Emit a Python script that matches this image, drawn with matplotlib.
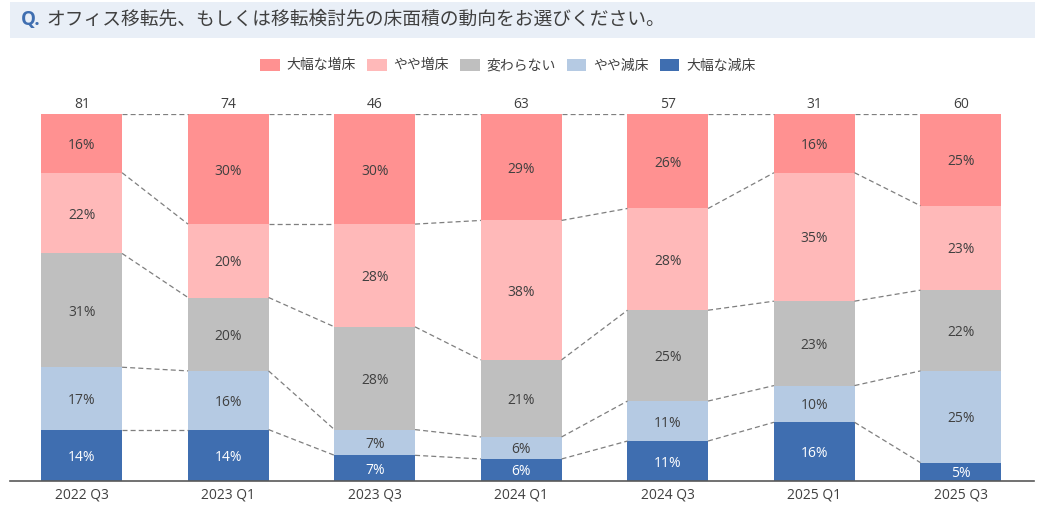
import matplotlib
matplotlib.use("Agg")
import matplotlib.pyplot as plt
from matplotlib.patches import Rectangle, Patch
import numpy as np

plt.rcParams['font.family'] = ['Open Sans', 'Noto Sans CJK JP', 'DejaVu Sans']

categories = ["2022 Q3", "2023 Q1", "2023 Q3", "2024 Q1", "2024 Q3", "2025 Q1", "2025 Q3"]
totals = [81, 74, 46, 63, 57, 31, 60]
series_names = ["大幅な増床", "やや増床", "変わらない", "やや減床", "大幅な減床"]
big_inc = [16, 30, 30, 29, 26, 16, 25]
small_inc = [22, 20, 28, 38, 28, 35, 23]
same = [31, 20, 28, 21, 25, 23, 22]
small_dec = [17, 16, 7, 6, 11, 10, 25]
big_dec = [14, 14, 7, 6, 11, 16, 5]
colors = ["#FF9191", "#FFB9B9", "#BFBFBF", "#B5CAE3", "#3F6EB0"]
text_colors = ["#404040", "#404040", "#404040", "#404040", "#FFFFFF"]
title = "オフィス移転先、もしくは移転検討先の床面積の動向をお選びください。"

fig = plt.figure(figsize=(10.44, 5.12), dpi=100)
ax = fig.add_axes([10/1044, 31/512, 1024/1044, 367/512])

stack_order = [big_dec, small_dec, same, small_inc, big_inc]
stack_colors = colors[::-1]
stack_tc = text_colors[::-1]
x = np.arange(len(categories))
width = 0.55
data = np.array(stack_order, dtype=float)
norm = data / data.sum(axis=0) * 100
bottoms = np.zeros(len(categories))
bounds = [bottoms.copy()]
for i, (vals, nv) in enumerate(zip(stack_order, norm)):
    ax.bar(x, nv, width, bottom=bottoms, color=stack_colors[i], edgecolor='none')
    for j in range(len(categories)):
        ax.text(x[j], bottoms[j] + nv[j] / 2, f"{vals[j]}%", ha='center', va='center_baseline',
                fontsize=10, color=stack_tc[i])
    bottoms = bottoms + nv
    bounds.append(bottoms.copy())

for b in bounds[1:]:
    for j in range(len(categories) - 1):
        ax.plot([x[j] + width/2, x[j+1] - width/2], [b[j], b[j+1]],
                linestyle=(0, (4, 2.5)), color="#7F7F7F", linewidth=0.9)

for j in range(len(categories)):
    ax.text(x[j], 103, str(totals[j]), ha='center', va='center_baseline', fontsize=10, color="#404040")

ax.set_xlim(-0.49, 6.5)
ax.set_ylim(0, 100)
ax.set_xticks(x)
ax.set_xticklabels(categories, fontsize=10, color="#404040")
ax.tick_params(axis='x', length=0, pad=5)
ax.set_yticks([])
for s in ['top', 'right', 'left']:
    ax.spines[s].set_visible(False)
ax.spines['bottom'].set_color("#595959")
ax.spines['bottom'].set_linewidth(1.2)

fig.patches.append(Rectangle((10/1044, 1 - 38/512), 1025/1044, 36/512,
                             transform=fig.transFigure, facecolor="#E9EFF7", edgecolor='none', zorder=0))
fig.text(21/1044, 1 - 20/512, "Q.", fontsize=13.5, color="#3F6EB0", fontweight='bold', va='center', ha='left')
fig.text(46/1044, 1 - 20/512, title, fontsize=13.5, color="#404040", va='center', ha='left')

handles = [Patch(facecolor=c, edgecolor='none') for c in colors]
fig.legend(handles, series_names, loc='center', bbox_to_anchor=(508/1044, 1 - 66/512), ncol=5,
           frameon=False, fontsize=10, handlelength=1.4, handleheight=1.0, handletextpad=0.5,
           columnspacing=0.8, labelcolor="#404040")

fig.savefig("out.png", dpi=100)
